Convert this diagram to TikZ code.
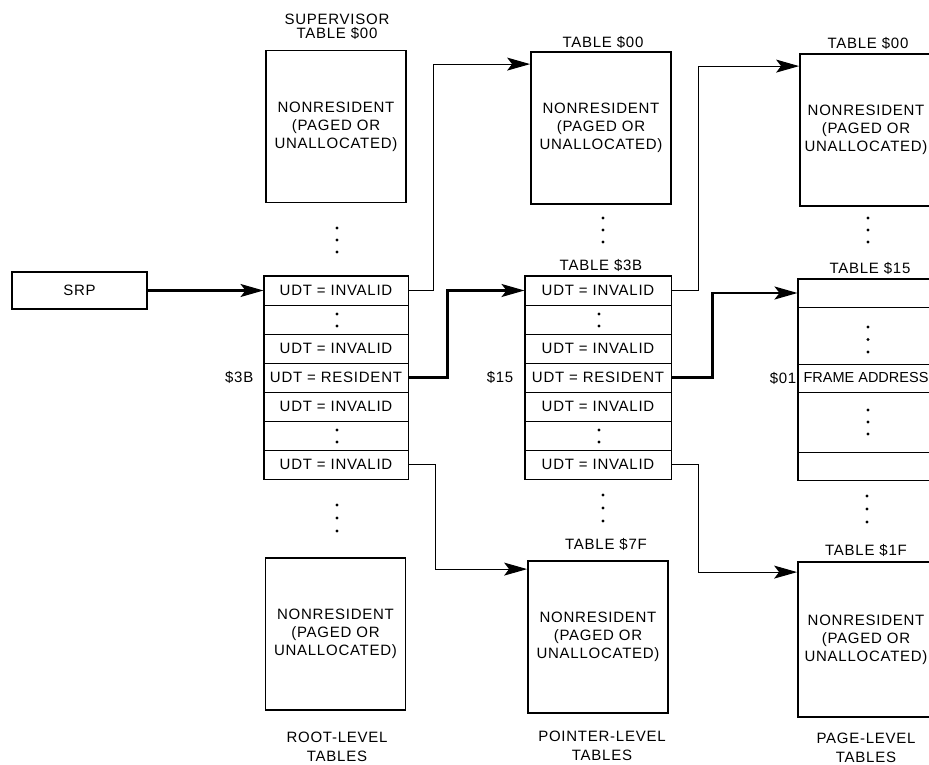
\documentclass[tikz,border=0pt]{standalone}
\usepackage{fontspec}
\setmainfont[LetterSpace=5]{Liberation Sans}
\newfontfamily\tightfont{Liberation Sans}
\usetikzlibrary{arrows.meta,fit}
\begin{document}
\begin{tikzpicture}[x=1pt,y=-1pt,
  every node/.style={font=\fontsize{15}{18}\selectfont, inner sep=0pt},
  row/.style={draw, line width=1pt, minimum width=144pt, minimum height=29pt},
  tblframe/.style={draw, line width=1.8pt, inner sep=0pt},
  nrbox/.style={draw, line width=1.8pt, minimum width=140pt, minimum height=152pt, align=center},
  lbl/.style={align=center},
  conn/.style={line width=1pt, -{Stealth[length=23pt,width=13pt,inset=5pt]}},
  heavy/.style={conn, line width=2.2pt},
  dotr/.style={fill=black}
]
\useasboundingbox (0,0) rectangle (929,765);
\clip (0,0) rectangle (929,765);

% SRP
\node[draw, line width=1.6pt, minimum width=135pt, minimum height=37pt] (srp) at (79.5,290.5) {SRP};

% ---------- root column ----------
\node[lbl, font=\fontsize{15}{14}\selectfont] (suplbl) at (337,27) {SUPERVISOR\\TABLE \$00};
\node[nrbox] (rtop) at (336,126.5) {NONRESIDENT\\(PAGED OR\\UNALLOCATED)};
\fill[dotr] (337,228) circle (1.7) (337,240) circle (1.7) (337,252) circle (1.7);

\node[row] (r1) at (336,290.5) {UDT = INVALID};
\node[row] (r2) at (336,319.5) {};
\node[row] (r3) at (336,348.5) {UDT = INVALID};
\node[row] (r4) at (336,377.5) {UDT = RESIDENT};
\node[row] (r5) at (336,406.5) {UDT = INVALID};
\node[row] (r6) at (336,435.5) {};
\node[row] (r7) at (336,464.5) {UDT = INVALID};
\node[tblframe, fit=(r1)(r7)] (rtab) {};
\fill[dotr] (337,314) circle (1.7) (337,326) circle (1.7);
\fill[dotr] (337,430) circle (1.7) (337,442) circle (1.7);
\node[anchor=east] (l3b) at ([xshift=-10pt]r4.west) {\$3B};

\fill[dotr] (337,505) circle (1.7) (337,518) circle (1.7) (337,531) circle (1.7);
\node[nrbox] (rbot) at (335.5,634) {NONRESIDENT\\(PAGED OR\\UNALLOCATED)};
\node[lbl, font=\fontsize{15}{19}\selectfont] (rootlbl) at (337,746.5) {ROOT-LEVEL\\TABLES};

% ---------- pointer column ----------
\node[lbl] (m00) at (603,42) {TABLE \$00};
\node[nrbox] (mtop) at (601,128) {NONRESIDENT\\(PAGED OR\\UNALLOCATED)};
\fill[dotr] (603,218) circle (1.7) (603,230) circle (1.7) (603,242) circle (1.7);
\node[lbl] (m3b) at (601,265) {TABLE \$3B};

\node[row, minimum width=146pt] (m1) at (598,290.5) {UDT = INVALID};
\node[row, minimum width=146pt] (m2) at (598,319.5) {};
\node[row, minimum width=146pt] (m3) at (598,348.5) {UDT = INVALID};
\node[row, minimum width=146pt] (m4) at (598,377.5) {UDT = RESIDENT};
\node[row, minimum width=146pt] (m5) at (598,406.5) {UDT = INVALID};
\node[row, minimum width=146pt] (m6) at (598,435.5) {};
\node[row, minimum width=146pt] (m7) at (598,464.5) {UDT = INVALID};
\node[tblframe, fit=(m1)(m7)] (mtab) {};
\fill[dotr] (599,314) circle (1.7) (599,326) circle (1.7);
\fill[dotr] (599,430) circle (1.7) (599,442) circle (1.7);
\node[anchor=east] (l15) at ([xshift=-11pt]m4.west) {\$15};

\fill[dotr] (603,495) circle (1.7) (603,508) circle (1.7) (603,521) circle (1.7);
\node[lbl] (m7f) at (606,544) {TABLE \$7F};
\node[nrbox] (mbot) at (598,637) {NONRESIDENT\\(PAGED OR\\UNALLOCATED)};
\node[lbl, font=\fontsize{15}{19}\selectfont] (ptrlbl) at (602,745.5) {POINTER-LEVEL\\TABLES};

% ---------- page column ----------
\node[lbl] (q00) at (868,43) {TABLE \$00};
\node[nrbox, minimum width=132pt] (qtop) at (866,130) {NONRESIDENT\\(PAGED OR\\UNALLOCATED)};
\fill[dotr] (868,218) circle (1.7) (868,230) circle (1.7) (868,242) circle (1.7);
\node[lbl] (q15) at (870,268) {TABLE \$15};

\node[row, minimum width=136pt, minimum height=28pt] (q1) at (866,293) {};
\node[row, minimum width=136pt, minimum height=57pt] (q2) at (866,335.5) {};
\node[row, minimum width=136pt, minimum height=28pt, font=\fontsize{14.5}{18}\tightfont] (q3) at (866,378) {FRAME ADDRESS};
\node[row, minimum width=136pt, minimum height=60pt] (q4) at (866,422) {};
\node[row, minimum width=136pt, minimum height=28pt] (q5) at (866,466) {};
\node[tblframe, fit=(q1)(q5)] (qtab) {};
\fill[dotr] (868,327) circle (1.7) (868,339.5) circle (1.7) (868,352) circle (1.7);
\fill[dotr] (868,410) circle (1.7) (868,422) circle (1.7) (868,434) circle (1.7);
\node[anchor=east] (l01) at ([xshift=-1pt]q3.west) {\$01};

\fill[dotr] (867,496) circle (1.7) (867,509) circle (1.7) (867,522) circle (1.7);
\node[lbl] (q1f) at (866,550) {TABLE \$1F};
\node[nrbox, minimum width=136pt, minimum height=155pt] (qbot) at (866,639.5) {NONRESIDENT\\(PAGED OR\\UNALLOCATED)};
\node[lbl, font=\fontsize{15}{19}\selectfont] (pglbl) at (866,747.5) {PAGE-LEVEL\\TABLES};

% ---------- connectors ----------
\draw[heavy] (srp.east) -- (r1.west);
\draw[conn] (r1.east) -- ++(25,0) |- ([yshift=-13pt]mtop.north west);
\draw[heavy] (r4.east) -- ++(39,0) |- (m1.west);
\draw[conn] (r7.east) -- ++(27,0) |- ([yshift=-9pt]mbot.north west);
\draw[conn] (m1.east) -- ++(27,0) |- ([yshift=-13pt]qtop.north west);
\draw[heavy] (m4.east) -- ++(41,0) |- (q1.west);
\draw[conn] (m7.east) -- ++(27,0) |- ([yshift=-11pt]qbot.north west);
\end{tikzpicture}
\end{document}
